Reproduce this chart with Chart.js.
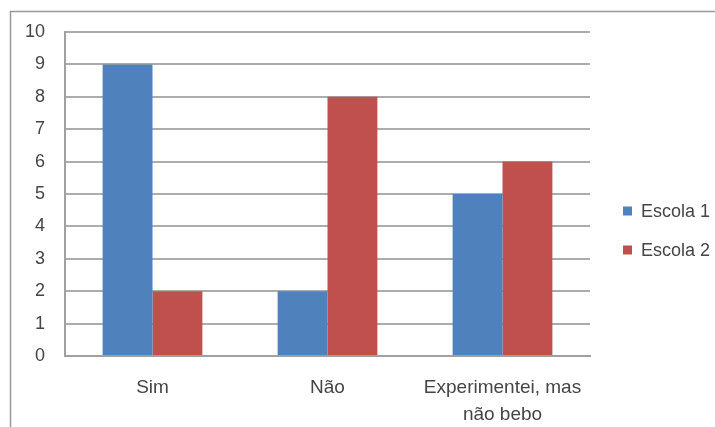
<!DOCTYPE html>
<html>
<head>
<meta charset="utf-8">
<script src="https://cdn.jsdelivr.net/npm/chart.js@4"></script>
<style>
html,body{margin:0;padding:0;background:#fff;}
#wrap{width:715px;height:427px;position:relative;}
</style>
</head>
<body>
<div id="wrap"><canvas id="c" width="715" height="427"></canvas></div>
<script>
const categories = ["Sim", "Não", ["Experimentei, mas", "não bebo"]];
const seriesNames = ["Escola 1", "Escola 2"];
const escola1 = [9, 2, 5];
const escola2 = [2, 8, 6];
const yTicks = [0, 1, 2, 3, 4, 5, 6, 7, 8, 9, 10];
const colors = ["#4F81BD", "#C0504D"];

const FONT = "'Liberation Sans', Arial, sans-serif";

const framePlugin = {
  id: 'frame',
  beforeDraw(chart) {
    const ctx = chart.ctx;
    ctx.save();
    ctx.fillStyle = '#fff';
    ctx.fillRect(0, 0, chart.width, chart.height);
    ctx.strokeStyle = '#999999';
    ctx.lineWidth = 1.5;
    ctx.strokeRect(10.5, 11.5, 900, 900);
    ctx.restore();
  }
};

const legendPlugin = {
  id: 'customLegend',
  afterDraw(chart) {
    const ctx = chart.ctx;
    const area = chart.chartArea;
    ctx.save();
    ctx.font = "18px " + FONT;
    ctx.textBaseline = 'middle';
    ctx.textAlign = 'left';
    const x0 = area.right + 33;
    const ys = [211, 250];
    chart.data.datasets.forEach((ds, i) => {
      ctx.fillStyle = ds.backgroundColor;
      ctx.fillRect(x0, ys[i] - 4.5, 9, 9);
      ctx.fillStyle = '#454545';
      ctx.fillText(ds.label, x0 + 18, ys[i] + 1);
    });
    ctx.restore();
  }
};

new Chart(document.getElementById('c'), {
  type: 'bar',
  data: {
    labels: categories,
    datasets: [
      { label: seriesNames[0], data: escola1, backgroundColor: colors[0], categoryPercentage: 0.57, barPercentage: 1.0 },
      { label: seriesNames[1], data: escola2, backgroundColor: colors[1], categoryPercentage: 0.57, barPercentage: 1.0 }
    ]
  },
  options: {
    responsive: false,
    animation: false,
    layout: { padding: { left: 0, right: 125, top: 32, bottom: 0 } },
    plugins: {
      legend: { display: false },
      tooltip: { enabled: false }
    },
    scales: {
      x: {
        grid: { display: false, drawTicks: false },
        border: { display: true, color: '#a0a0a0', width: 2 },
        ticks: { font: { family: FONT, size: 19, lineHeight: 1.38 }, color: '#454545', padding: 19, maxRotation: 0, autoSkip: false },
        afterFit(scale) { scale.height = 71; }
      },
      y: {
        min: 0, max: 10,
        afterBuildTicks(scale) { scale.ticks = yTicks.map(v => ({ value: v })); },
        grid: { color: '#acacac', lineWidth: 2, drawTicks: false },
        border: { display: true, color: '#a0a0a0', width: 2 },
        ticks: { font: { family: FONT, size: 18 }, color: '#454545', padding: 20 },
        afterFit(scale) { scale.width = 65; }
      }
    }
  },
  plugins: [framePlugin, legendPlugin]
});
</script>
</body>
</html>
